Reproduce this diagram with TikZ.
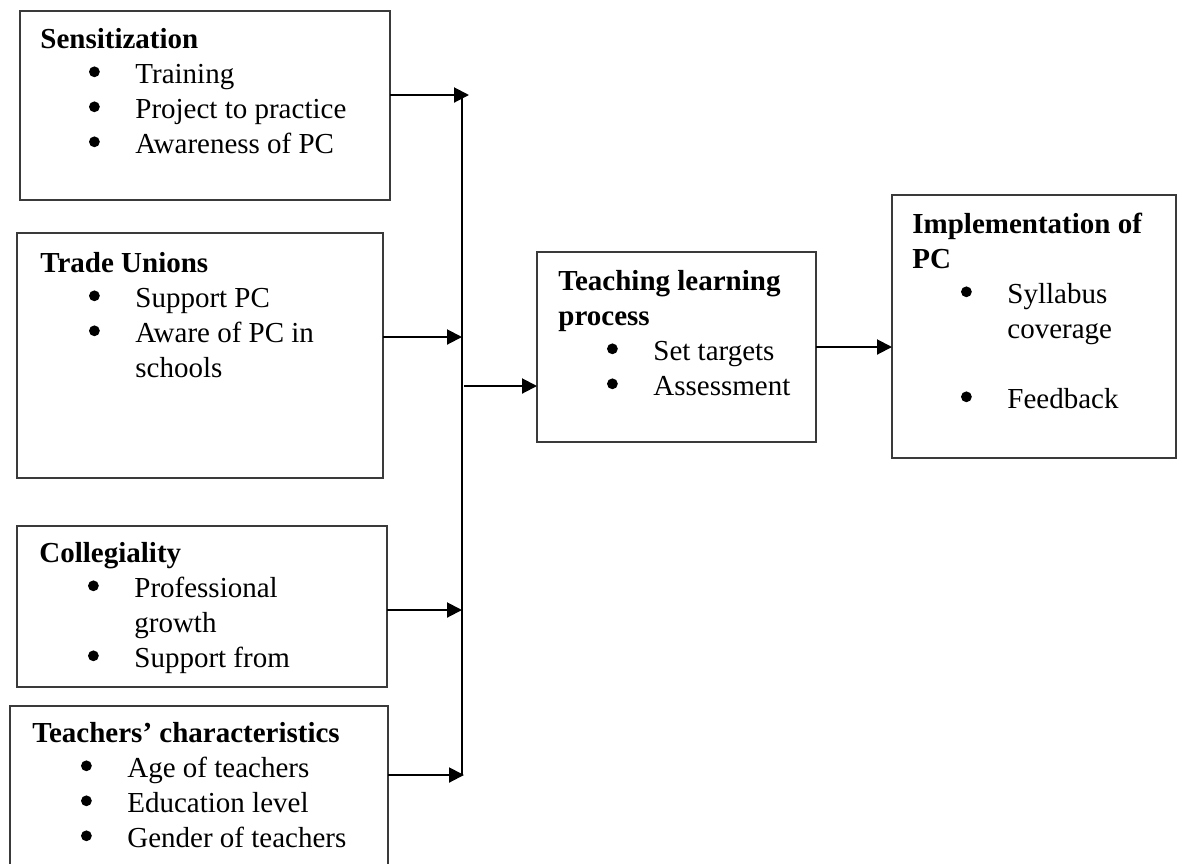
\documentclass[tikz,border=0pt]{standalone}
\usepackage{fontspec}
\setmainfont{Liberation Serif}
\usepackage{tikz}
\usetikzlibrary{arrows.meta, positioning, calc}
\definecolor{inkOne}{HTML}{000000}
\definecolor{inkTwo}{HTML}{3A3A3A}
\newcommand{\dotmark}{\tikz[baseline=0pt]\fill[inkOne] (0pt,5.6pt) circle (2.7pt);}
\newcommand{\bul}{\hspace*{27pt}\makebox[0pt]{\dotmark}\hspace*{20.5pt}}
\newcommand{\cont}{\hspace*{47.5pt}}
\tikzset{
  frame/.style={draw=inkTwo, line width=0.7pt, inner sep=0pt, outer sep=0pt, anchor=north west},
  txt/.style={inner sep=0pt, anchor=base west, text=inkOne, font=\fontsize{14.5pt}{17.5pt}\selectfont},
  arr/.style={-{Triangle[length=7.5pt, width=7.5pt]}, draw=inkOne, line width=1pt},
  bus/.style={draw=inkOne, line width=1pt},
}

\begin{document}
\begin{tikzpicture}[x=0.5pt, y=-0.5pt]
  \useasboundingbox (0,0) rectangle (1182,863);
  \clip (0,0) rectangle (1182,863);
  % ---- boxes on the left
  \node[frame, line width=1pt, minimum width=185pt, minimum height=94.5pt] (sens) at (20,11) {};
  \node[frame, minimum width=183pt, minimum height=122.5pt] (unions) at (17,233) {};
  \node[frame, minimum width=185pt, minimum height=80.5pt] (colleg) at (17,526) {};
  \node[frame, minimum width=189pt, minimum height=100pt] (teachers) at (10,706) {};
  \node[txt] (sensT) at (40,48) {\parbox[t]{180pt}{\textbf{Sensitization}\\
    \bul Training\\ \bul Project to practice\\ \bul Awareness of PC}};
  \node[txt] (unionsT) at (40,272) {\parbox[t]{180pt}{\textbf{Trade Unions}\\
    \bul Support PC\\ \bul Aware of PC in\\ \cont schools}};
  \node[txt] (collegT) at (39,562) {\parbox[t]{180pt}{\textbf{Collegiality}\\
    \bul Professional\\ \cont growth\\ \bul Support from}};
  \node[txt] (teachersT) at (32,742) {\parbox[t]{185pt}{\textbf{Teachers’ characteristics}\\
    \bul Age of teachers\\ \bul Education level\\ \bul Gender of teachers}};
  % ---- process and outcome
  \node[frame, minimum width=139.5pt, minimum height=95pt] (tlp) at (537,252) {};
  \node[frame, minimum width=142pt, minimum height=131.5pt] (impl) at (892,195) {};
  \node[txt] (tlpT) at (558,290) {\parbox[t]{130pt}{\textbf{Teaching learning}\\ \textbf{process}\\
    \bul Set targets\\ \bul Assessment}};
  \node[txt] (implT) at (912,233) {\parbox[t]{130pt}{\textbf{Implementation of}\\ \textbf{PC}\\
    \bul Syllabus\\ \cont coverage\\[17.5pt] \bul Feedback}};
  % ---- collecting line and arrows
  \coordinate (busTop) at (462,95);
  \coordinate (busBot) at (462,775);
  \coordinate (sensTip) at (469,95);
  \coordinate (busU) at (462,337);
  \coordinate (busC) at (462,610);
  \coordinate (busT) at (464,775);
  \coordinate (busM) at (464,386);
  \draw[bus] (busTop) -- (busBot);
  \draw[arr] (sens.east |- sensTip) -- (sensTip);
  \draw[arr] (unions.east |- busU) -- (busU);
  \draw[arr] (colleg.east |- busC) -- (busC);
  \draw[arr] (teachers.east |- busT) -- (busT);
  \draw[arr] (busM) -- (tlp.west |- busM);
  \draw[arr] (tlp.east) -- (tlp.east -| impl.west);
\end{tikzpicture}
\end{document}
